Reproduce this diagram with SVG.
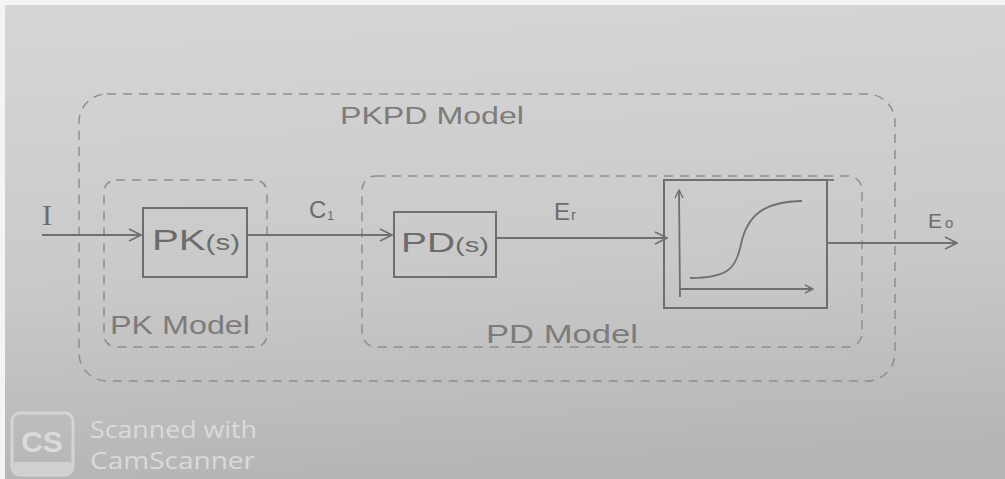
<svg xmlns="http://www.w3.org/2000/svg" width="1005" height="479" viewBox="0 0 1005 479">
<defs>
<linearGradient id="paper" x1="0" y1="0" x2="0.1" y2="1">
<stop offset="0" stop-color="#d6d6d6"/>
<stop offset="0.6" stop-color="#c9c9c9"/>
<stop offset="1" stop-color="#b6b6b6"/>
</linearGradient>
<marker id="open" viewBox="0 0 14 14" refX="13" refY="7" markerWidth="14" markerHeight="14" markerUnits="userSpaceOnUse" orient="auto">
<path d="M1,1 L13,7 L1,13" fill="none" stroke="#707070" stroke-width="1.6"/>
</marker>
<marker id="small" viewBox="0 0 10 10" refX="9" refY="5" markerWidth="10" markerHeight="10" markerUnits="userSpaceOnUse" orient="auto">
<path d="M1,1 L9,5 L1,9" fill="none" stroke="#707070" stroke-width="1.4"/>
</marker>
</defs>
<style>
.dash{fill:none;stroke:#8e8e8e;stroke-width:1.5;stroke-dasharray:9 7}
.box{fill:none;stroke:#6e6e6e;stroke-width:2}
.wire{fill:none;stroke:#707070;stroke-width:1.8}
.hand{font-family:"Liberation Sans",Arial,sans-serif;fill:#6c6c6c}
.lbl{font-family:"Liberation Sans",Arial,sans-serif;fill:#7c7c7c}
.cs{font-family:"Open Sans","DejaVu Sans",sans-serif;fill:#dadada}
</style>
<rect x="0" y="0" width="1005" height="479" fill="#f4f4f4"/>
<rect x="5" y="5" width="1000" height="474" fill="url(#paper)"/>

<g id="pkpd-model">
<rect class="dash" x="79" y="94" width="816" height="287" rx="28"/>
<text class="lbl" x="340" y="124" font-size="23" textLength="184" lengthAdjust="spacingAndGlyphs">PKPD  Model</text>
</g>

<g id="pk-model">
<rect class="dash" x="104" y="180" width="163" height="167" rx="12"/>
<text class="lbl" x="110" y="334" font-size="26" textLength="140" lengthAdjust="spacingAndGlyphs">PK Model</text>
</g>

<g id="pd-model">
<rect class="dash" x="362" y="176" width="500" height="171" rx="14"/>
<text class="lbl" x="486" y="343" font-size="26" textLength="152" lengthAdjust="spacingAndGlyphs">PD Model</text>
</g>

<g id="pk-s">
<rect class="box" x="143" y="208" width="104" height="69"/>
<text class="hand" x="152" y="250" font-size="30" textLength="88" lengthAdjust="spacingAndGlyphs">PK<tspan font-size="22">(s)</tspan></text>
</g>

<g id="pd-s">
<rect class="box" x="394" y="212" width="102" height="65"/>
<text class="hand" x="401" y="252" font-size="28" textLength="88" lengthAdjust="spacingAndGlyphs">PD<tspan font-size="21">(s)</tspan></text>
</g>

<g id="sigmoid">
<rect class="box" x="664" y="180" width="163" height="128"/>
<line class="wire" x1="827" y1="180" x2="834" y2="180"/>
<line class="wire" x1="680" y1="297" x2="679" y2="190" marker-end="url(#small)"/>
<line class="wire" x1="679" y1="289" x2="813" y2="289" marker-end="url(#small)"/>
<path class="wire" d="M690,278 C730,278 736,268 742,240 C750,210 770,202 802,201"/>
</g>

<g id="connectors">
<line class="wire" x1="42" y1="235" x2="141" y2="235" marker-end="url(#open)"/>
<line class="wire" x1="247" y1="235" x2="392" y2="235" marker-end="url(#open)"/>
<line class="wire" x1="496" y1="238" x2="667" y2="238" marker-end="url(#open)"/>
<line class="wire" x1="827" y1="243" x2="957" y2="243" marker-end="url(#open)"/>
</g>

<g id="labels">
<text x="42" y="225" font-size="30" font-family="'Liberation Serif',serif" fill="#6c6c6c">I</text>
<text class="hand" x="309" y="218" font-size="24">C</text>
<text class="hand" x="327" y="220" font-size="13">1</text>
<text class="hand" x="554" y="220" font-size="24">E</text>
<text class="hand" x="571" y="220" font-size="15">r</text>
<text class="hand" x="928" y="228" font-size="21">E</text>
<text class="hand" x="945" y="228" font-size="15">o</text>
</g>

<g id="camscanner">
<rect x="12" y="413" width="61" height="62" rx="8" fill="none" stroke="#d4d4d4" stroke-width="3"/>
<rect x="12" y="462" width="61" height="13" rx="5" fill="#d0d0d0"/>
<text x="42" y="452" text-anchor="middle" font-family="'Liberation Sans',sans-serif" font-weight="bold" font-size="30" fill="#dadada">CS</text>
<text class="cs" x="90" y="438" font-size="23" textLength="167" lengthAdjust="spacingAndGlyphs">Scanned with</text>
<text class="cs" x="90" y="469" font-size="23" textLength="165" lengthAdjust="spacingAndGlyphs">CamScanner</text>
</g>
</svg>
